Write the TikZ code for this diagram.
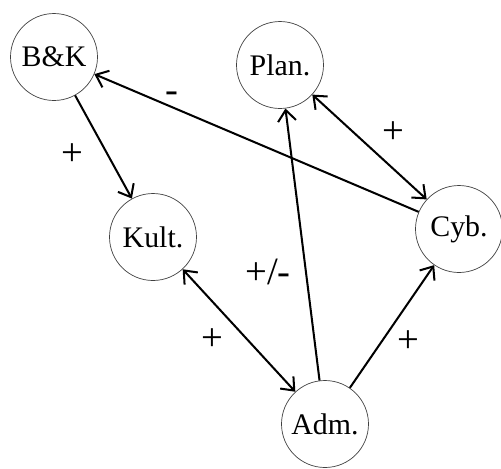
\documentclass[tikz,border=0pt]{standalone}
\usepackage{fontspec}
\setmainfont{Liberation Serif}
\usetikzlibrary{arrows.meta,positioning}
\tikzset{
  cnode/.style={draw=black!75, circle, thin, minimum size=17.4mm, inner sep=0pt, font=\fontsize{17}{19}\selectfont},
  clabel/.style={font=\fontsize{22}{24}\selectfont},
  carrow/.style={-{Straight Barb[length=2.2mm,width=3.6mm]}, line width=1.15pt},
  cboth/.style={{Straight Barb[length=2.2mm,width=3.6mm]}-{Straight Barb[length=2.2mm,width=3.6mm]}, line width=1.15pt}
}
\begin{document}
\begin{tikzpicture}[x=0.02cm, y=-0.02cm]
  \useasboundingbox (0,0) rectangle (501,468);
  \node[cnode] (bk) at (54,57) {B\&K};
  \node[cnode] (plan) at (280,65) {Plan.};
  \node[cnode] (kult) at (153,237) {Kult.};
  \node[cnode] (cyb) at (459,229) {Cyb.};
  \node[cnode] (adm) at (325,424) {Adm.};
  \draw[carrow] (bk) -- (kult);
  \draw[carrow] (cyb) -- (bk);
  \draw[cboth] (plan) -- (cyb);
  \draw[carrow] (adm) -- (plan);
  \draw[cboth] (kult) -- (adm);
  \draw[carrow] (adm) -- (cyb);
  \node[clabel] (l1) at (72,155) {+};
  \node[clabel] (l2) at (172,97) {-};
  \node[clabel] (l3) at (393,133) {+};
  \node[clabel] (l4) at (268,272) {+/-};
  \node[clabel] (l5) at (212,340) {+};
  \node[clabel] (l6) at (408,342) {+};
\end{tikzpicture}
\end{document}
